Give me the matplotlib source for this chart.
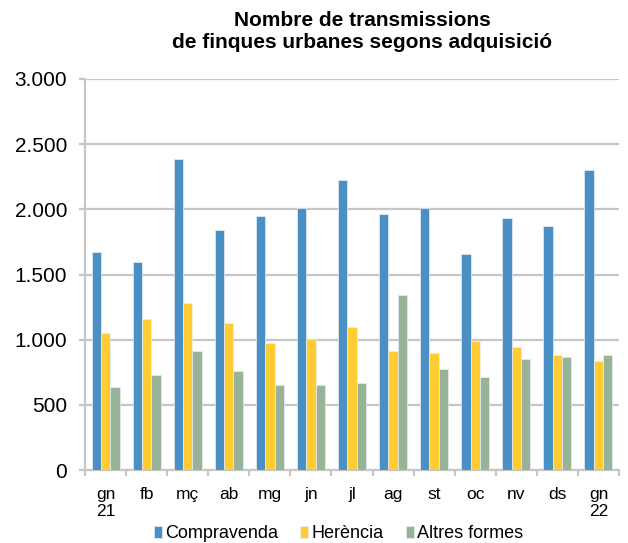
import matplotlib
matplotlib.use("Agg")
import matplotlib.pyplot as plt
import numpy as np
from matplotlib.ticker import FuncFormatter

plt.rcParams['font.family'] = ['Liberation Sans', 'DejaVu Sans']

categories = ["gn\n21", "fb", "mç", "ab", "mg", "jn", "jl", "ag", "st", "oc", "nv", "ds", "gn\n22"]
compravenda = [1672, 1597, 2390, 1840, 1950, 2011, 2224, 1963, 2011, 1659, 1932, 1871, 2300]
herencia = [1048, 1155, 1278, 1125, 971, 1005, 1094, 912, 897, 987, 941, 879, 836]
altres = [636, 728, 912, 759, 649, 649, 665, 1340, 774, 711, 849, 864, 879]
series_names = ["Compravenda", "Herència", "Altres formes"]
colors = ["#4A90C4", "#FFCC33", "#97B498"]

fig = plt.figure(figsize=(6.28, 5.43), dpi=100)
ax = fig.add_axes([85/628, 1 - 470/543, 534/628, 391/543])

x = np.arange(len(categories))
w = 0.227
for i, (vals, name, c) in enumerate(zip([compravenda, herencia, altres], series_names, colors)):
    ax.bar(x + (i - 1) * w, vals, width=w, color=c, label=name,
           edgecolor="#E8EEF4", linewidth=0.5, zorder=3)

grid_c = "#C6C6C6"
ax.set_xlim(-0.5, len(categories) - 0.5)
ax.set_ylim(0, 3000)
ax.set_yticks(np.arange(0, 3001, 500))
ax.yaxis.set_major_formatter(FuncFormatter(lambda v, p: f"{int(v):,}".replace(",", ".")))
ax.grid(axis="y", color=grid_c, linewidth=1.6, zorder=0)
ax.set_axisbelow(True)
for s in ["top", "right"]:
    ax.spines[s].set_visible(False)
for s in ["left", "bottom"]:
    ax.spines[s].set_color(grid_c)
    ax.spines[s].set_linewidth(1.6)
ax.tick_params(axis="y", length=4.3, width=1.6, color=grid_c, labelsize=15, pad=8.5,
               labelcolor="#000000")
ax.set_xticks(x)
ax.set_xticklabels(categories, fontsize=12.5, ha="center", va="top", linespacing=1.1)
ax.tick_params(axis="x", length=0, pad=12.5)
ax.set_xticks(np.arange(-0.5, len(categories), 1), minor=True)
ax.tick_params(axis="x", which="minor", length=4, color=grid_c, width=1.6)

fig.text(0.577, 1 - 20/543, "Nombre de transmissions", ha="center", va="center",
         fontsize=15, fontweight="bold")
fig.text(0.577, 1 - 43/543, "de finques urbanes segons adquisició", ha="center", va="center",
         fontsize=15, fontweight="bold")

leg = fig.legend(loc="center", bbox_to_anchor=(0.539, 1 - 534/543), ncol=3, frameon=False,
                 fontsize=13, handlelength=0.45, handleheight=0.67, handletextpad=0.2,
                 columnspacing=1.2, borderpad=0)

fig.savefig("out.png", dpi=100)
